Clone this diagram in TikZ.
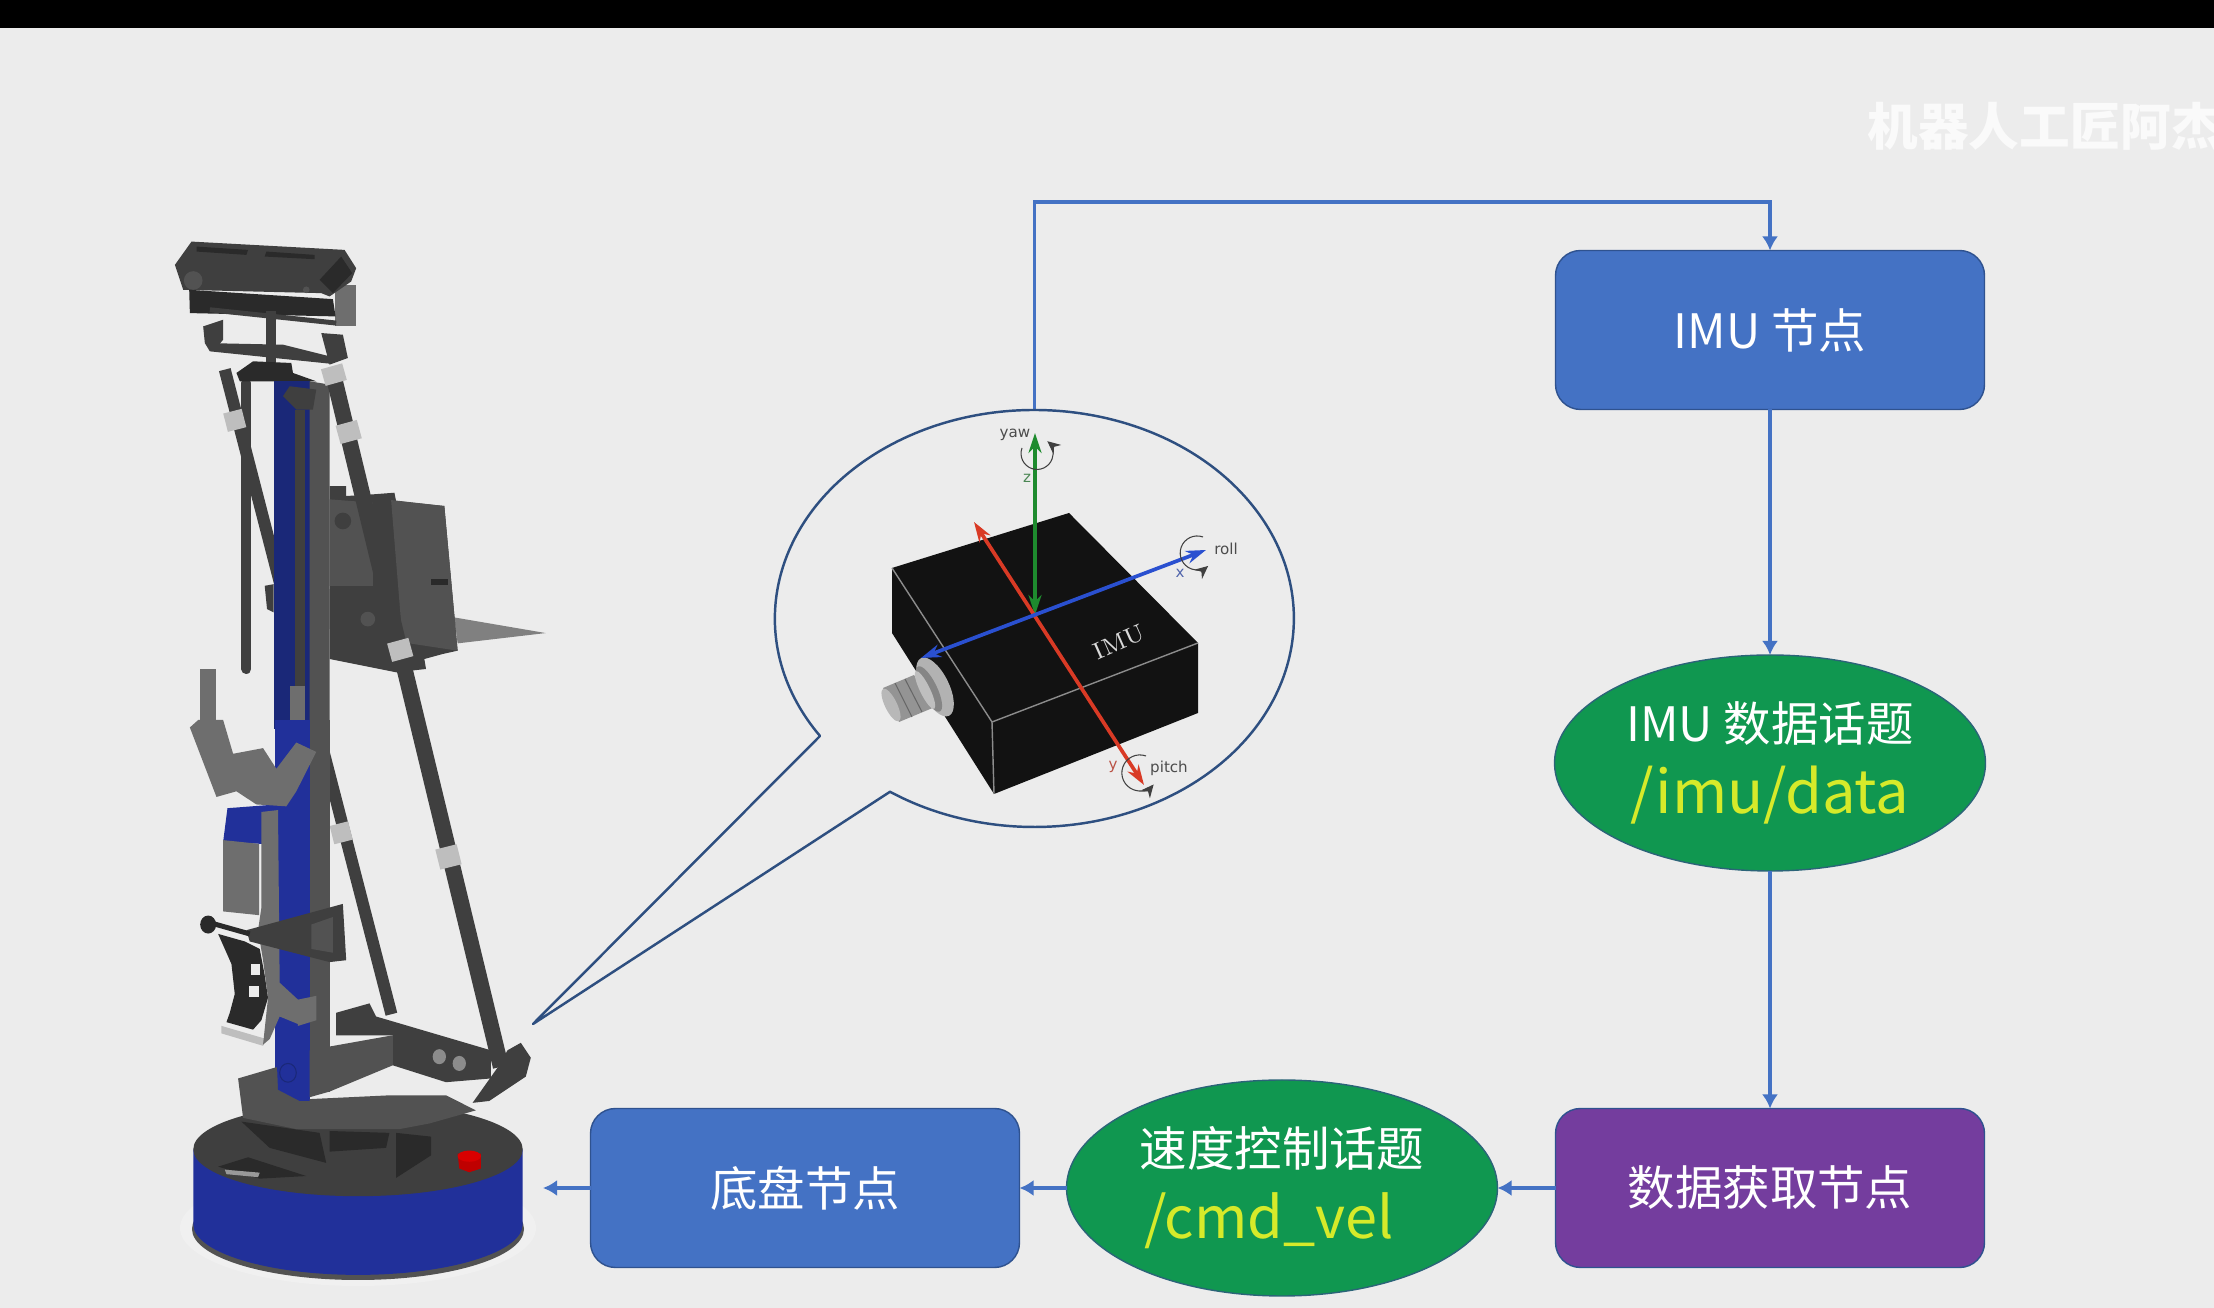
\documentclass[tikz,border=0pt]{standalone}
\usepackage{fontspec}
\usepackage{tikz}
\usetikzlibrary{arrows.meta, positioning, shapes.geometric}
\setsansfont{DejaVu Sans}
\newfontfamily\cjk{Noto Sans CJK SC}
\definecolor{slidebg}{HTML}{ECECEC}
\definecolor{nodeblue}{HTML}{4472C4}
\definecolor{nodeedge}{HTML}{2F528F}
\definecolor{bubbleedge}{HTML}{2E4F80}
\definecolor{topicgreen}{HTML}{109750}
\definecolor{topicedge}{HTML}{2B6478}
\definecolor{nodepurple}{HTML}{743D9E}
\definecolor{topicyellow}{HTML}{D6EA2A}
\definecolor{baseblue}{HTML}{21309A}
\definecolor{colblue}{HTML}{1A2878}
\definecolor{steel}{HTML}{3F3F3F}
\definecolor{steeldark}{HTML}{2A2A2A}
\definecolor{steelmid}{HTML}{525252}
\definecolor{steellight}{HTML}{6E6E6E}
\definecolor{collargray}{HTML}{BEBEBE}
\definecolor{axisgreen}{HTML}{1E8B2E}
\definecolor{axisred}{HTML}{D93A25}
\definecolor{axisblue}{HTML}{2A50D0}

\begin{document}
\begin{tikzpicture}[
    nodebox/.style={draw=nodeedge, fill=nodeblue, text=white, rounded corners=0.25cm,
        minimum width=4.29cm, minimum height=1.59cm, inner sep=0pt, outer sep=0pt,
        align=center, font=\cjk\fontsize{13.5}{20.5}\selectfont},
    topic/.style={draw=topicedge, fill=topicgreen, text=white, ellipse,
        minimum width=4.31cm, minimum height=2.16cm, inner sep=0pt, outer sep=0pt,
        align=center, font=\cjk\fontsize{13.5}{20.5}\selectfont},
    flow/.style={-{Latex[length=1.4mm,width=1.6mm]}, line width=1pt, color=nodeblue},
    bubble/.style={draw=bubbleedge, line width=0.7pt, line join=round},
    axislab/.style={font=\sffamily\fontsize{4.3}{5}\selectfont, text=black!70, inner sep=0pt},
    turn/.style={-{Stealth[length=1.3mm,width=1.2mm]}, draw=black!75, line width=0.3pt},
    axisline/.style={{Stealth[length=2mm,width=1.3mm]}-{Stealth[length=2mm,width=1.3mm]}, line width=1.05pt},
    rod/.style={draw=steel, line width=0.12cm},
    collar/.style={draw=collargray, line width=0.19cm},
    robotupper/.style={shift={(1.30,10.98)}, x=0.003333cm, y=-0.003333cm},
    robotlower/.style={shift={(1.30,5.88)}, x=0.003333cm, y=-0.00375cm}
]
\useasboundingbox (0,0) rectangle (22.14,13.08);
\fill[slidebg] (0,0) rectangle (22.14,13.08);
\fill[black] (0,12.80) rectangle (22.14,13.08);

% --- Watermark ---
\node[anchor=west, inner sep=0pt, text=white!75!slidebg, font=\cjk\bfseries\fontsize{14.4}{16}\selectfont]
    (mark) at (18.67,11.82) {机器人工匠阿杰};

% --- Flow nodes ---
\node[nodebox] (imunode) at (17.70,9.78) {IMU 节点};
\node[topic] (imutopic) at (17.70,5.45) {IMU 数据话题\\{\fontsize{17}{20.5}\selectfont\color{topicyellow}/imu/data}};
\node[nodebox, fill=nodepurple] (datanode) at (17.70,1.20) {数据获取节点};
\node[topic] (cmdtopic) at (12.82,1.20) {速度控制话题\\{\fontsize{16.4}{20.5}\selectfont\color{topicyellow}\hspace*{-0.26cm}/cmd\_vel}};
\node[nodebox] (basenode) at (8.05,1.20) {底盘节点};

% --- Free ends of the connectors ---
\coordinate (bubbletop) at (10.345,8.98);
\coordinate (robotside) at (5.43,1.20);

% --- Flow connectors ---
\draw[flow] (bubbletop) -- ++(0,2.08) -| (imunode.north);
\draw[flow] (imunode) -- (imutopic);
\draw[flow] (imutopic) -- (datanode);
\draw[flow] (datanode) -- (cmdtopic);
\draw[flow] (cmdtopic) -- (basenode);
\draw[flow] (basenode) -- (robotside);

% --- Callout bubble ---
\coordinate (robottip) at (5.33,2.84);
\draw[bubble] (robottip) -- (8.20,5.72)
    arc[start angle=214.3, end angle=-123.8, x radius=2.595, y radius=2.085] -- cycle;

% --- IMU block ---
\fill[black!93] (8.92,7.40) -- (10.69,7.95) -- (11.98,6.65) -- (11.98,5.95)
    -- (9.94,5.14) -- (8.92,6.75) -- cycle;
\draw[black!45, line width=0.4pt] (8.92,7.40) -- (9.92,5.86) -- (11.98,6.65);
\draw[black!45, line width=0.4pt] (9.92,5.86) -- (9.94,5.14);
% --- IMU plug ---
\fill[black!42] (8.83,6.20) -- (9.14,6.33) -- (9.35,6.01) -- (8.99,5.86) -- cycle;
\draw[black!60, line width=0.3pt] (8.95,6.25) -- (9.12,5.91);
\draw[black!60, line width=0.3pt] (9.05,6.29) -- (9.22,5.96);
\fill[black!28, rotate around={26:(8.91,6.03)}] (8.91,6.03) ellipse[x radius=0.06, y radius=0.18];
\fill[black!30, rotate around={26:(9.35,6.21)}] (9.35,6.21) ellipse[x radius=0.14, y radius=0.32];
\fill[black!48, rotate around={26:(9.29,6.19)}] (9.29,6.19) ellipse[x radius=0.08, y radius=0.25];
\fill[black!25, rotate around={26:(9.25,6.18)}] (9.25,6.18) ellipse[x radius=0.05, y radius=0.21];
\node[rotate=24, text=white!85!black, inner sep=0pt, font=\rmfamily\fontsize{6.8}{8}\selectfont]
    (imulab) at (11.19,6.66) {IMU};

% --- IMU axes ---
\draw[axisline, axisgreen] (10.35,8.75) -- (10.35,6.93);
\draw[axisline, axisred] (9.74,7.86) -- (11.44,5.23);
\draw[axisline, axisblue] (9.21,6.50) -- (12.06,7.58);
\draw[turn] (10.22,8.60) arc[start angle=160, end angle=410, radius=0.16];
\draw[turn] (12.03,7.71) arc[start angle=70, end angle=310, radius=0.17];
\draw[turn] (11.46,5.52) arc[start angle=70, end angle=320, radius=0.18];
\node[axislab] (yawlab) at (10.15,8.73) {yaw};
\node[axislab, text=axisgreen!55!gray] (zlab) at (10.27,8.30) {z};
\node[axislab] (rolllab) at (12.26,7.59) {roll};
\node[axislab, text=axisblue!55!gray] (xlab) at (11.80,7.35) {x};
\node[axislab, text=axisred!65!gray] (ylab) at (11.13,5.41) {y};
\node[axislab] (pitchlab) at (11.69,5.40) {pitch};

% --- Robot: rods behind the column ---
\begin{scope}[robotupper]
    \draw[rod] (285,480) -- (786,2418);
    \draw[rod, line width=0.1cm, line cap=round] (350,520) -- (350,1380);
    \draw[collar] (308,605) -- (322,660);
    \draw[collar] (628,1845) -- (642,1900);
\end{scope}

% --- Robot: tablet and keyboard ---
\begin{scope}[robotupper]
    \fill[black!50] (975,1225) -- (1250,1272) -- (985,1303) -- cycle;
    \fill[steel] (600,830) -- (650,830) -- (650,860) -- (730,855) -- (795,850) -- (800,875)
        -- (945,890) -- (985,1325) -- (940,1335) -- (885,1350) -- (890,1380) -- (800,1390) -- (600,1350) -- cycle;
    \fill[steelmid] (785,872) -- (945,890) -- (985,1325) -- (820,1300) -- cycle;
    \fill[steelmid] (600,870) -- (730,880) -- (730,1130) -- (600,1130) -- cycle;
    \fill[steel] (600,1140) -- (800,1180) -- (820,1270) -- (740,1290) -- (600,1260) -- cycle;
    \fill[steel] (640,935) circle[radius=25];
    \fill[steelmid] (715,1230) circle[radius=22];
    \fill[steeldark] (905,1108) rectangle (955,1128);
\end{scope}

% --- Robot: camera head ---
\begin{scope}[robotupper]
    \fill[steellight] (615,225) -- (680,225) -- (680,350) -- (615,350) -- cycle;
    \fill[steel] (135,165) -- (185,95) -- (645,120) -- (680,175) -- (665,215) -- (600,260) -- (575,250) -- (160,240) -- cycle;
    \fill[steeldark] (200,110) -- (355,120) -- (350,135) -- (200,125) -- cycle;
    \fill[steeldark] (410,125) -- (555,135) -- (555,148) -- (405,140) -- cycle;
    \fill[steeldark] (570,210) -- (635,140) -- (668,190) -- (610,250) -- cycle;
    \fill[steelmid] (190,212) circle[radius=28];
    \fill[steelmid] (530,240) circle[radius=10];
    \fill[steeldark] (178,240) -- (610,268) -- (618,320) -- (180,310) -- cycle;
    \draw[steel, line width=0.05cm] (240,300) -- (620,340);
    \fill[steel] (408,305) rectangle (440,460);
    \fill[steel] (225,400) -- (460,405) -- (620,445) -- (600,462) -- (240,425) -- cycle;
    \fill[steel] (220,350) -- (280,330) -- (280,390) -- (255,420) -- (225,400) -- cycle;
    \fill[steel] (575,370) -- (640,375) -- (655,445) -- (600,465) -- cycle;
    \fill[steeldark] (320,490) -- (370,455) -- (485,460) -- (490,490) -- (560,515) -- (330,515) -- cycle;
\end{scope}

% --- Robot: column ---
\begin{scope}[robotupper]
    \fill[colblue] (432,515) rectangle (540,1560);
    \fill[steelmid] (540,515) -- (600,525) -- (600,1560) -- (540,1560) -- cycle;
    \fill[steel] (495,600) rectangle (525,1430);
    \fill[steellight] (480,1430) rectangle (525,1560);
    \fill[steel] (460,560) -- (480,530) -- (560,540) -- (550,600) -- (500,600) -- cycle;
    \fill[steel] (405,1130) -- (432,1125) -- (432,1210) -- (412,1200) -- cycle;
    \fill[steellight] (210,1380) rectangle (258,1540);
\end{scope}

% --- Robot: lower column, gripper, sensors ---
\begin{scope}[robotlower]
    \fill[baseblue] (435,0) rectangle (540,1010);
    \fill[steelmid] (540,0) rectangle (600,990);
    \fill[baseblue] (293,235) -- (440,225) -- (440,330) -- (393,330) -- (280,325) -- cycle;
    \fill[steellight] (180,20) -- (205,0) -- (280,0) -- (310,90) -- (400,75) -- (440,130) -- (500,60)
        -- (560,85) -- (500,190) -- (470,230) -- (380,225) -- (320,190) -- (260,205) -- cycle;
    \fill[steellight] (280,320) -- (388,330) -- (388,520) -- (280,510) -- cycle;
    \fill[steeldark] (265,570) -- (345,590) -- (390,610) -- (405,680) -- (415,740) -- (395,800)
        -- (370,825) -- (290,805) -- (300,780) -- (315,730) -- (305,650) -- cycle;
    \fill[slidebg] (365,650) rectangle (392,680);
    \fill[slidebg] (358,710) rectangle (388,738);
    \fill[collargray] (275,815) -- (410,850) -- (400,868) -- (275,835) -- cycle;
    \fill[steellight] (395,245) -- (445,240) -- (450,700) -- (505,745) -- (505,810) -- (450,790)
        -- (420,850) -- (400,865) -- (415,740) -- (400,640) -- (385,560) -- (395,500) -- cycle;
    \fill[steel] (350,560) -- (640,490) -- (650,640) -- (600,645) -- (360,590) -- cycle;
    \fill[steelmid] (545,545) -- (610,525) -- (610,620) -- (545,610) -- cycle;
    \fill[steeldark] (235,545) circle[radius=24];
    \draw[steeldark, line width=0.05cm] (240,540) -- (360,570);
    \fill[steellight] (505,745) -- (560,735) -- (560,800) -- (505,815) -- cycle;
\end{scope}

% --- Robot: base cylinder ---
\fill[black!6] (3.58,0.80) ellipse[x radius=1.78, y radius=0.58];
\fill[steelmid] (3.58,0.79) ellipse[x radius=1.66, y radius=0.51];
\fill[baseblue] (1.933,1.587) -- (1.933,0.837)
    arc[start angle=180, end angle=360, x radius=1.647, y radius=0.506]
    -- (5.227,1.587) -- cycle;
\fill[steel] (3.58,1.587) ellipse[x radius=1.647, y radius=0.469];

% --- Robot: platform and details on top ---
\begin{scope}[robotlower]
    \fill[steeldark] (335,1070) -- (570,1100) -- (590,1180) -- (420,1140) -- cycle;
    \fill[steeldark] (600,1095) -- (780,1100) -- (770,1140) -- (600,1150) -- cycle;
    \fill[steeldark] (800,1100) -- (905,1110) -- (905,1160) -- (800,1220) -- cycle;
    \fill[steelmid] (325,955) -- (440,925) -- (540,1010) -- (780,1000) -- (950,1000) -- (1040,1040)
        -- (900,1075) -- (810,1090) -- (500,1090) -- (340,1060) -- cycle;
    \fill[baseblue] (440,880) -- (540,880) -- (540,1015) -- (510,1015) -- (445,985) -- cycle;
    \draw[colblue, line width=0.3pt] (475,940) circle[radius=25];
    \fill[steelmid] (540,880) -- (600,880) -- (600,990) -- (540,1005) -- cycle;
    \fill[steel] (620,780) -- (720,755) -- (740,790) -- (1085,880) -- (1085,955) -- (950,965)
        -- (790,920) -- (790,840) -- (620,840) -- cycle;
    \fill[steelmid] (600,870) -- (790,840) -- (790,920) -- (600,990) -- cycle;
    \fill[black!45] (930,897) circle[radius=20];
    \fill[black!45] (990,915) circle[radius=20];
    \fill[steeldark] (265,1190) -- (355,1165) -- (530,1215) -- (390,1222) -- cycle;
    \fill[black!40] (285,1198) -- (390,1206) -- (385,1218) -- (290,1210) -- cycle;
    \fill[red!75!black] (985,1155) -- (1055,1155) -- (1055,1195) -- (1020,1205) -- (990,1195) -- cycle;
    \fill[red!85!black] (1020,1162) ellipse[x radius=35, y radius=15];
\end{scope}

% --- Robot: front rod ---
\begin{scope}[robotupper]
    \draw[rod, line width=0.16cm] (610,490) -- (1115,2576);
    \draw[collar, line width=0.22cm] (606,470) -- (620,520);
    \draw[collar, line width=0.22cm] (650,640) -- (665,695);
    \draw[collar, line width=0.22cm] (805,1295) -- (820,1350);
    \draw[collar, line width=0.22cm] (950,1915) -- (965,1975);
\end{scope}
\begin{scope}[robotlower]
    \fill[steel] (1030,1020) -- (1110,920) -- (1135,880) -- (1175,860) -- (1205,900) -- (1190,950) -- (1080,1015) -- cycle;
\end{scope}

\end{tikzpicture}
\end{document}
